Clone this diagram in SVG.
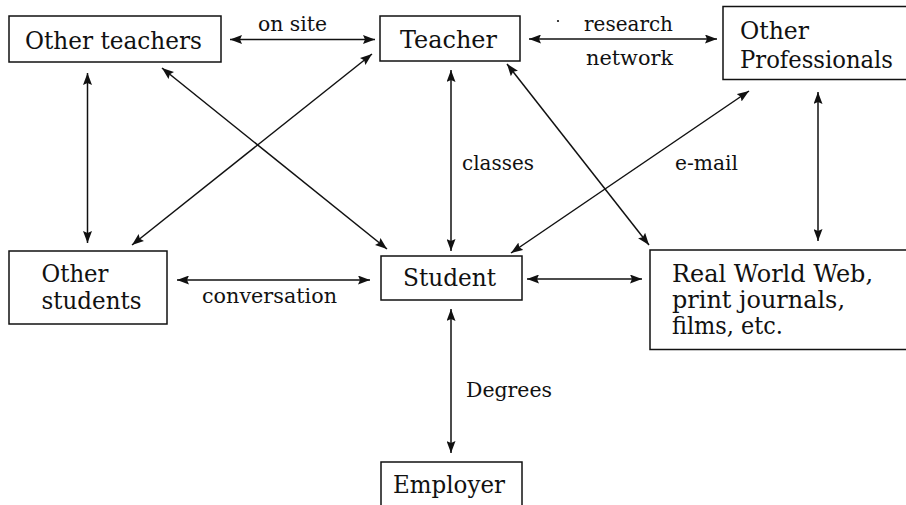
<svg xmlns="http://www.w3.org/2000/svg" width="906" height="505" viewBox="0 0 906 505">
  <style>
    .box { fill: #ffffff; stroke: #111111; stroke-width: 1.5; }
    .node-text { font-family: "DejaVu Serif", "Liberation Serif", serif; font-size: 23.5px; fill: #111111; }
    .label { font-family: "DejaVu Serif", "Liberation Serif", serif; font-size: 20.5px; fill: #111111; }
    .link { stroke: #111111; stroke-width: 1.5; fill: none; marker-start: url(#head); marker-end: url(#head); }
  </style>
  <defs>
    <marker id="head" viewBox="0 0 12 9" refX="12" refY="4.5" markerWidth="12" markerHeight="9" markerUnits="userSpaceOnUse" orient="auto-start-reverse">
      <path d="M0,0 L12,4.5 L0,9 L2,4.5 z" fill="#111111"/>
    </marker>
  </defs>
  <rect width="906" height="505" fill="#ffffff"/>

  <!-- connectors: every link is two-way -->
  <g id="connectors">
    <line class="link" x1="230" y1="39.5" x2="375" y2="39.5"/>
    <line class="link" x1="529" y1="39" x2="717" y2="39"/>
    <line class="link" x1="87.5" y1="73" x2="87.5" y2="243"/>
    <line class="link" x1="162" y1="68" x2="387" y2="249"/>
    <line class="link" x1="372" y1="54" x2="132" y2="245"/>
    <line class="link" x1="451" y1="70" x2="451" y2="251"/>
    <line class="link" x1="507" y1="64" x2="649" y2="245"/>
    <line class="link" x1="749" y1="91" x2="511" y2="253"/>
    <line class="link" x1="818" y1="92" x2="818" y2="241"/>
    <line class="link" x1="177" y1="280" x2="370" y2="280"/>
    <line class="link" x1="527" y1="279" x2="642" y2="279"/>
    <line class="link" x1="451" y1="309" x2="451" y2="453"/>
  </g>

  <!-- connector labels -->
  <g id="labels">
    <text class="label" x="258" y="31" textLength="69" lengthAdjust="spacingAndGlyphs">on site</text>
    <circle cx="558" cy="21" r="1.1" fill="#111111"/>
    <text class="label" x="584" y="31" textLength="89" lengthAdjust="spacingAndGlyphs">research</text>
    <text class="label" x="586" y="65" textLength="87" lengthAdjust="spacingAndGlyphs">network</text>
    <text class="label" x="462" y="170" textLength="72" lengthAdjust="spacingAndGlyphs">classes</text>
    <text class="label" x="675" y="170" textLength="63" lengthAdjust="spacingAndGlyphs">e-mail</text>
    <text class="label" x="202" y="302.5" textLength="135" lengthAdjust="spacingAndGlyphs">conversation</text>
    <text class="label" x="466" y="396.5" textLength="86" lengthAdjust="spacingAndGlyphs">Degrees</text>
  </g>

  <g id="other-teachers">
    <rect class="box" x="9" y="16" width="212" height="46"/>
    <text class="node-text" x="25" y="48.5" textLength="177" lengthAdjust="spacingAndGlyphs">Other teachers</text>
  </g>

  <g id="teacher">
    <rect class="box" x="380" y="16" width="140" height="45"/>
    <text class="node-text" x="400" y="48" textLength="97" lengthAdjust="spacingAndGlyphs">Teacher</text>
  </g>

  <g id="other-professionals">
    <rect class="box" x="723" y="6.5" width="190" height="73"/>
    <text class="node-text" x="740" y="39" textLength="69" lengthAdjust="spacingAndGlyphs">Other</text>
    <text class="node-text" x="740" y="68" textLength="153" lengthAdjust="spacingAndGlyphs">Professionals</text>
  </g>

  <g id="other-students">
    <rect class="box" x="9" y="251" width="158" height="73"/>
    <text class="node-text" x="41.5" y="282" textLength="67" lengthAdjust="spacingAndGlyphs">Other</text>
    <text class="node-text" x="41.5" y="308.5" textLength="100" lengthAdjust="spacingAndGlyphs">students</text>
  </g>

  <g id="student">
    <rect class="box" x="381" y="256" width="141" height="44"/>
    <text class="node-text" x="403" y="286" textLength="93" lengthAdjust="spacingAndGlyphs">Student</text>
  </g>

  <g id="real-world">
    <rect class="box" x="650" y="250" width="263" height="99.5"/>
    <text class="node-text" x="672" y="281.5" textLength="201" lengthAdjust="spacingAndGlyphs">Real World Web,</text>
    <text class="node-text" x="672" y="308" textLength="173" lengthAdjust="spacingAndGlyphs">print journals,</text>
    <text class="node-text" x="672" y="333.5" textLength="111" lengthAdjust="spacingAndGlyphs">films, etc.</text>
  </g>

  <g id="employer">
    <rect class="box" x="381" y="462" width="141" height="50"/>
    <text class="node-text" x="393" y="493" textLength="112" lengthAdjust="spacingAndGlyphs">Employer</text>
  </g>
</svg>
